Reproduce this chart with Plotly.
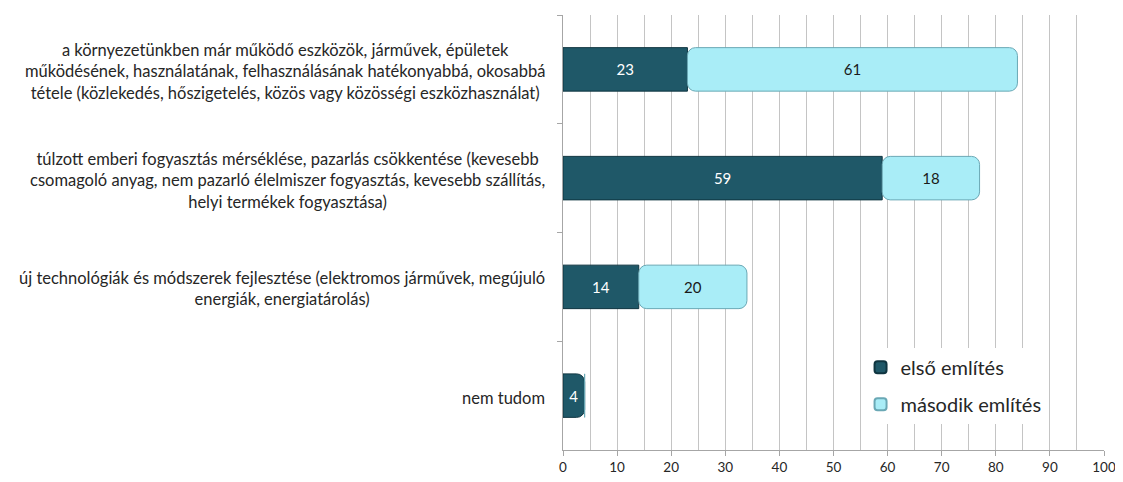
import plotly.graph_objects as go

categories = [
    "a környezetünkben már működő eszközök, járművek, épületek<br>működésének, használatának, felhasználásának hatékonyabbá, okosabbá<br>tétele (közlekedés, hőszigetelés, közös vagy közösségi eszközhasználat)",
    "túlzott emberi fogyasztás mérséklése, pazarlás csökkentése (kevesebb<br>csomagoló anyag, nem pazarló élelmiszer fogyasztás, kevesebb szállítás,<br>helyi termékek fogyasztása)",
    "új technológiák és módszerek fejlesztése (elektromos járművek, megújuló<br>energiák, energiatárolás)",
    "nem tudom",
]
keys = ["c1", "c2", "c3", "c4"]
first = [23, 59, 14, 4]
second = [61, 18, 20, None]
x_ticks = list(range(0, 101, 10))

FONT = "Lato"
fig = go.Figure()
fig.add_trace(go.Bar(
    name="első említés", y=keys, x=first, orientation="h", legendgroup="a",
    marker=dict(color="#1F5868", line=dict(color="#0F3540", width=1)),
    text=[str(v) for v in first], textposition="inside", insidetextanchor="middle",
    textfont=dict(color="white", size=15, family=FONT),
))
fig.add_trace(go.Bar(
    name="második említés", y=keys, x=[v if v is not None else 0 for v in second],
    base=first, orientation="h", legendgroup="b",
    marker=dict(color="#A9EDF7", line=dict(color="#6AA8B5", width=1)),
    text=[str(v) if v is not None else "" for v in second], textposition="inside",
    insidetextanchor="middle",
    textfont=dict(color="#1a1a1a", size=15, family=FONT),
))

for k, c in zip(keys, categories):
    fig.add_annotation(x=0, xref="paper", y=k, yref="y", text=c, showarrow=False,
                       xanchor="right", xshift=-16, yshift=-2, align="center",
                       font=dict(family=FONT, size=16.5, color="#262626"))

fig.update_layout(
    width=1115, height=474,
    margin=dict(l=555, r=17, t=7, b=30),
    barmode="overlay", bargap=0.6, barcornerradius=8,
    plot_bgcolor="white", paper_bgcolor="white",
    font=dict(family=FONT, color="#262626"),
    legend=dict(x=0.55, y=0.235, xanchor="left", yanchor="top",
                bgcolor="white", font=dict(size=20, family=FONT),
                itemsizing="constant", tracegroupgap=8),
    showlegend=True,
)
fig.update_xaxes(range=[0, 100], tickvals=x_ticks, showgrid=True, gridcolor="#C4C4C4",
                 minor=dict(dtick=5, showgrid=True, gridcolor="#C4C4C4"),
                 showline=True, linecolor="#A6A6A6", ticks="outside", ticklen=5,
                 tickcolor="#A6A6A6", tickfont=dict(size=13.5, family=FONT, color="#262626"),
                 zeroline=False)
fig.update_yaxes(autorange="reversed", showticklabels=False, tickson="boundaries",
                 ticks="outside", ticklen=5, tickcolor="#A6A6A6",
                 showline=True, linecolor="#A6A6A6", showgrid=False)

fig.write_html("out.html")
